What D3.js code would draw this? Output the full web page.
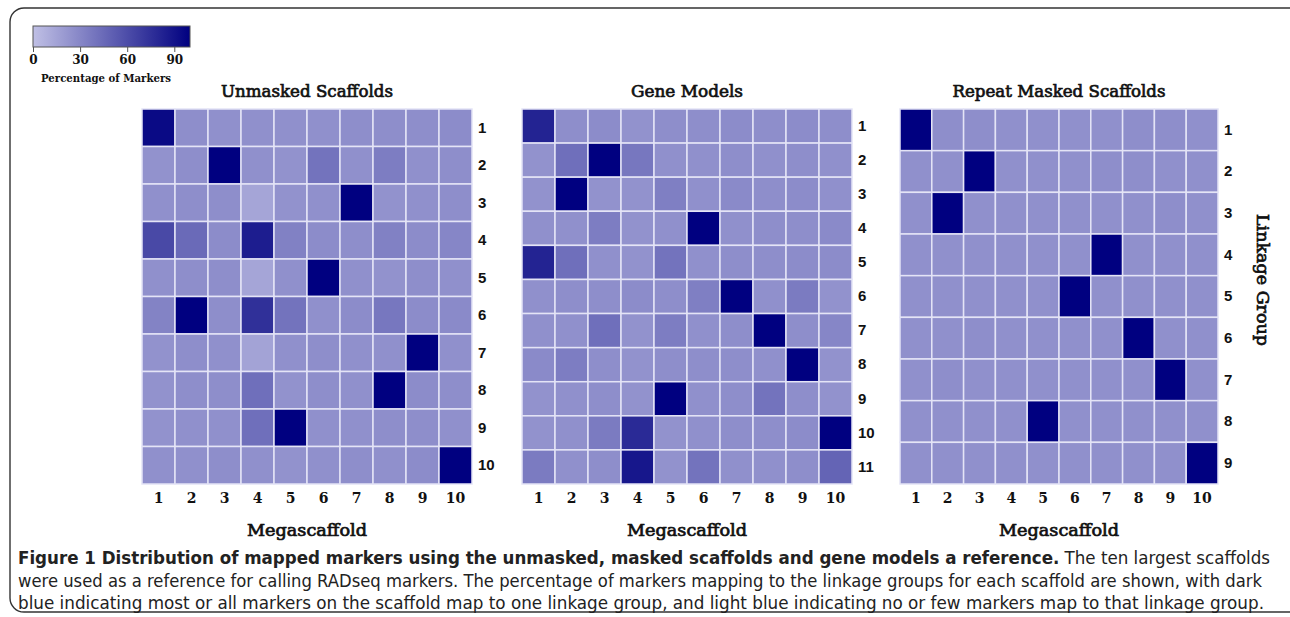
<!DOCTYPE html>
<html>
<head>
<meta charset="utf-8">
<script src="https://cdn.jsdelivr.net/npm/d3@7"></script>
<style>
  body { margin: 0; background: #fff; }
  svg { display: block; }
</style>
</head>
<body>
<div id="chart"></div>
<script>
// Megascaffold columns and linkage group rows
var megascaffolds = ["1", "2", "3", "4", "5", "6", "7", "8", "9", "10"];
var groupsUnmasked = ["1", "2", "3", "4", "5", "6", "7", "8", "9", "10"];
var groupsGene = ["1", "2", "3", "4", "5", "6", "7", "8", "9", "10", "11"];
var groupsMasked = ["1", "2", "3", "4", "5", "6", "7", "8", "9"];
var legendTicks = [0, 30, 60, 90];

// Percentage of markers, one row per linkage group, one column per megascaffold
var unmasked = [
  [95, 26, 25, 25, 25, 25, 26, 26, 26, 27],
  [24, 26, 100, 25, 24, 40, 25, 35, 25, 26],
  [25, 26, 26, 14, 24, 25, 100, 24, 25, 26],
  [62, 45, 27, 85, 33, 27, 26, 33, 27, 30],
  [25, 26, 26, 14, 25, 100, 25, 24, 26, 25],
  [32, 100, 26, 75, 40, 25, 27, 38, 27, 28],
  [24, 26, 25, 15, 25, 26, 25, 25, 100, 25],
  [24, 26, 26, 42, 24, 26, 25, 100, 27, 26],
  [24, 25, 25, 42, 100, 25, 25, 26, 26, 25],
  [25, 25, 26, 25, 24, 25, 26, 25, 27, 100]
];

var geneModels = [
  [82, 26, 27, 24, 26, 26, 27, 26, 27, 26],
  [24, 42, 100, 38, 25, 25, 26, 25, 26, 25],
  [24, 100, 24, 24, 34, 25, 28, 26, 27, 25],
  [25, 25, 35, 24, 25, 100, 25, 26, 26, 28],
  [82, 42, 25, 24, 40, 25, 26, 26, 27, 27],
  [25, 26, 26, 27, 26, 34, 100, 25, 36, 24],
  [25, 25, 42, 24, 35, 25, 26, 100, 26, 30],
  [28, 35, 26, 24, 26, 26, 26, 25, 100, 24],
  [24, 25, 26, 24, 100, 25, 26, 40, 26, 24],
  [24, 25, 36, 78, 24, 25, 26, 26, 27, 100],
  [36, 25, 26, 88, 24, 40, 25, 25, 26, 48]
];

var repeatMasked = [
  [100, 26, 26, 25, 25, 25, 25, 26, 26, 25],
  [25, 25, 100, 25, 25, 25, 26, 26, 25, 25],
  [25, 100, 25, 25, 25, 25, 25, 25, 26, 25],
  [25, 25, 25, 25, 25, 25, 100, 25, 25, 25],
  [25, 25, 25, 25, 25, 100, 25, 25, 25, 25],
  [25, 25, 26, 25, 25, 25, 25, 100, 25, 25],
  [25, 26, 25, 25, 25, 25, 25, 25, 100, 25],
  [25, 25, 25, 25, 100, 25, 25, 25, 25, 25],
  [25, 25, 25, 25, 25, 25, 25, 25, 25, 100]
];

var width = 1290, height = 617;
var gridTop = 109, gridBottom = 484;

var panels = [
  {title: "Unmasked Scaffolds", rows: groupsUnmasked, data: unmasked, x0: 142, x1: 472, tw: 172},
  {title: "Gene Models", rows: groupsGene, data: geneModels, x0: 522, x1: 852, tw: 112},
  {title: "Repeat Masked Scaffolds", rows: groupsMasked, data: repeatMasked, x0: 900, x1: 1218, tw: 213}
];

var color = d3.scaleLinear()
    .domain([0, 100])
    .range(["#c0c0e5", "#000080"]);

var svg = d3.select("#chart").append("svg")
    .attr("width", width)
    .attr("height", height);

var serif = "'DejaVu Serif', serif";

// semibold look: regular face with a thin outline
function heading(sel, size) {
  sel.style("font-family", serif)
    .style("font-size", size + "px")
    .style("fill", "#111")
    .style("stroke", "#111")
    .style("stroke-width", "0.7px");
}

// frame round the figure
svg.append("rect")
  .attr("x", 10)
  .attr("y", 8)
  .attr("width", 1300)
  .attr("height", 604)
  .attr("rx", 14)
  .attr("ry", 14)
  .attr("fill", "none")
  .attr("stroke", "#333")
  .attr("stroke-width", 1.4);

///////////////////////// legend /////////////////////////
var grad = svg.append("defs")
  .append("linearGradient")
  .attr("id", "grad")
  .attr("x1", "0%").attr("x2", "100%")
  .attr("y1", "0%").attr("y2", "0%");

grad.selectAll("stop")
  .data([0, 25, 50, 75, 100])
  .enter().append("stop")
  .attr("offset", function(d) { return d + "%"; })
  .style("stop-color", function(d) { return color(d); });

var legendX = d3.scaleLinear().domain([0, 100]).range([33, 190]);

svg.append("rect")
  .attr("x", 33)
  .attr("y", 26)
  .attr("width", 157)
  .attr("height", 21)
  .attr("fill", "url(#grad)")
  .attr("stroke", "#555")
  .attr("stroke-width", 1);

var lAxis = svg.append("g")
  .attr("transform", "translate(0,47)")
  .call(d3.axisBottom(legendX).tickValues(legendTicks).tickSize(5).tickPadding(3));
lAxis.select(".domain").remove();
lAxis.selectAll("line").attr("stroke", "#555");
lAxis.selectAll("text")
  .attr("fill", "#111")
  .style("font-family", serif)
  .style("font-weight", "bold")
  .style("font-size", "12px");

svg.append("text")
  .attr("x", 106)
  .attr("y", 82)
  .attr("text-anchor", "middle")
  .style("font-family", serif)
  .style("font-weight", "bold")
  .style("font-size", "11px")
  .attr("fill", "#111")
  .attr("textLength", 130)
  .attr("lengthAdjust", "spacingAndGlyphs")
  .text("Percentage of Markers");

///////////////////////// heatmaps /////////////////////////
panels.forEach(function(p) {
  var x = d3.scaleBand().domain(megascaffolds).range([p.x0, p.x1]);
  var y = d3.scaleBand().domain(p.rows).range([gridTop, gridBottom]);

  var cells = [];
  p.data.forEach(function(row, i) {
    row.forEach(function(v, j) {
      cells.push({row: p.rows[i], col: megascaffolds[j], value: v});
    });
  });

  var g = svg.append("g");

  g.selectAll(".cell")
    .data(cells)
    .enter().append("rect")
    .attr("class", "cell")
    .attr("x", function(d) { return x(d.col); })
    .attr("y", function(d) { return y(d.row); })
    .attr("width", x.bandwidth())
    .attr("height", y.bandwidth())
    .attr("fill", function(d) { return color(d.value); })
    .attr("stroke", "#e4e4f6")
    .attr("stroke-width", 1.5);

  g.append("text")
    .attr("x", (p.x0 + p.x1) / 2)
    .attr("y", 97)
    .attr("text-anchor", "middle")
    .attr("textLength", p.tw)
    .attr("lengthAdjust", "spacingAndGlyphs")
    .call(heading, 17)
    .text(p.title);

  var xa = g.append("g")
    .attr("transform", "translate(0," + gridBottom + ")")
    .call(d3.axisBottom(x).tickSize(0).tickPadding(9));
  xa.select(".domain").remove();
  xa.selectAll("text")
    .attr("fill", "#111")
    .style("font-family", serif)
    .style("font-weight", "bold")
    .style("font-size", "14px");

  var ya = g.append("g")
    .attr("transform", "translate(" + p.x1 + ",0)")
    .call(d3.axisRight(y).tickSize(0).tickPadding(6));
  ya.select(".domain").remove();
  ya.selectAll("text")
    .attr("fill", "#111")
    .style("font-family", "'Liberation Sans', Arial, sans-serif")
    .style("font-weight", "bold")
    .style("font-size", "15px");

  g.append("text")
    .attr("x", (p.x0 + p.x1) / 2)
    .attr("y", 536)
    .attr("text-anchor", "middle")
    .attr("textLength", 120)
    .attr("lengthAdjust", "spacingAndGlyphs")
    .call(heading, 17)
    .text("Megascaffold");
});

svg.append("text")
  .attr("transform", "translate(1257,280) rotate(90)")
  .attr("text-anchor", "middle")
  .attr("textLength", 132)
  .attr("lengthAdjust", "spacingAndGlyphs")
  .call(heading, 17)
  .text("Linkage Group");

///////////////////////// caption /////////////////////////
var capFont = "'Liberation Sans Narrow', 'DejaVu Sans Condensed', sans-serif";

var line1 = svg.append("text")
  .attr("x", 18)
  .attr("y", 564)
  .attr("textLength", 1252)
  .attr("lengthAdjust", "spacingAndGlyphs")
  .style("font-family", capFont)
  .style("font-size", "17px")
  .attr("fill", "#222");
line1.append("tspan")
  .style("font-weight", "bold")
  .text("Figure 1 Distribution of mapped markers using the unmasked, masked scaffolds and gene models a reference.");
line1.append("tspan")
  .text(" The ten largest scaffolds");

svg.append("text")
  .attr("x", 18)
  .attr("y", 587)
  .attr("textLength", 1244)
  .attr("lengthAdjust", "spacingAndGlyphs")
  .style("font-family", capFont)
  .style("font-size", "17px")
  .attr("fill", "#222")
  .text("were used as a reference for calling RADseq markers. The percentage of markers mapping to the linkage groups for each scaffold are shown, with dark");

svg.append("text")
  .attr("x", 18)
  .attr("y", 609)
  .attr("textLength", 1246)
  .attr("lengthAdjust", "spacingAndGlyphs")
  .style("font-family", capFont)
  .style("font-size", "17px")
  .attr("fill", "#222")
  .text("blue indicating most or all markers on the scaffold map to one linkage group, and light blue indicating no or few markers map to that linkage group.");
</script>
</body>
</html>
